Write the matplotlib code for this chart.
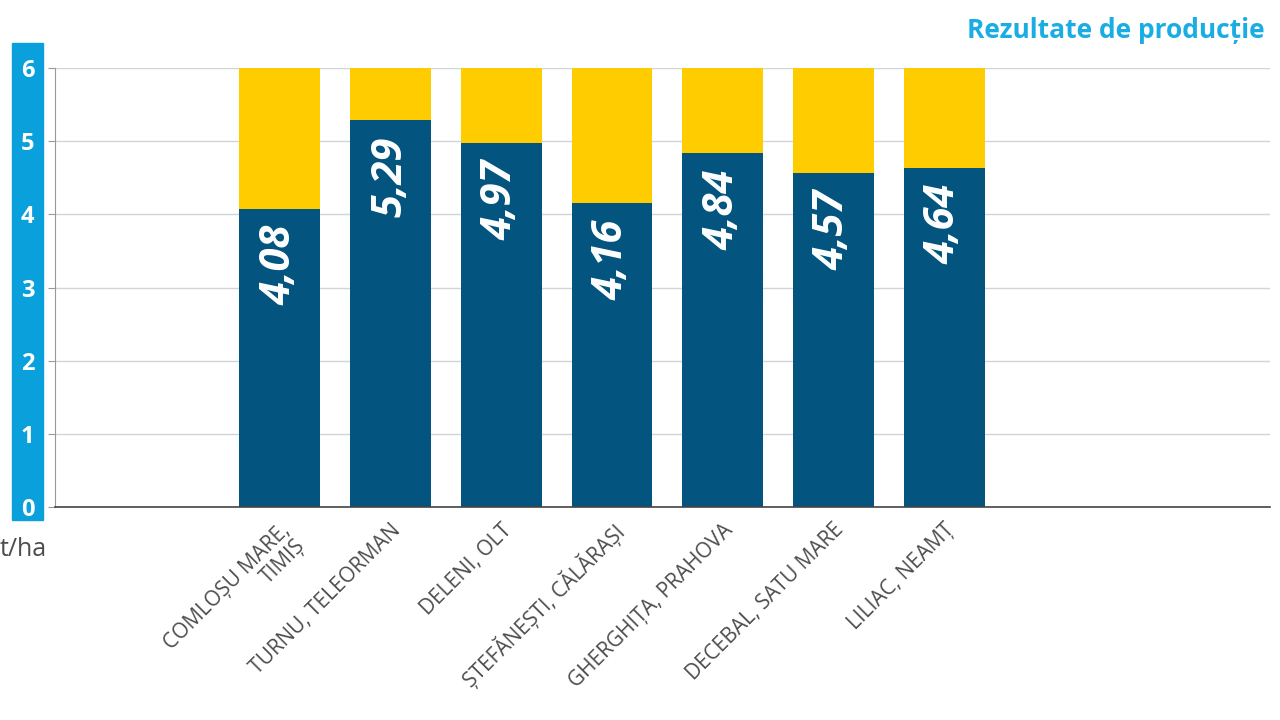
import matplotlib.pyplot as plt
from matplotlib.patches import Rectangle

# Data
locations = ['COMLOȘU MARE,\nTIMIȘ', 'TURNU, TELEORMAN', 'DELENI, OLT',
             'ȘTEFĂNEȘTI, CĂLĂRAȘI', 'GHERGHIȚA, PRAHOVA',
             'DECEBAL, SATU MARE', 'LILIAC, NEAMȚ']
yields = [4.08, 5.29, 4.97, 4.16, 4.84, 4.57, 4.64]
scale_max = [6, 6, 6, 6, 6, 6, 6]
value_labels = ['4,08', '5,29', '4,97', '4,16', '4,84', '4,57', '4,64']
y_ticks = [0, 1, 2, 3, 4, 5, 6]

BLUE = '#03557f'
YELLOW = '#ffcc00'
STRIP = '#0aa0dc'
GREY = '#4d4d4d'

plt.rcParams['font.family'] = ['Open Sans', 'DejaVu Sans']

fig = plt.figure(figsize=(12.8, 7.2), dpi=100)
ax = fig.add_axes([0.043, 0.2958, 0.949, 0.6097])
ax.set_zorder(2)

x = list(range(len(locations)))
rest = [m - v for m, v in zip(scale_max, yields)]
ax.bar(x, yields, width=0.73, color=BLUE, zorder=2)
ax.bar(x, rest, bottom=yields, width=0.73, color=YELLOW, zorder=2)

for xi, v, lab in zip(x, yields, value_labels):
    ax.annotate(lab, (xi, v), xytext=(0, -12), textcoords='offset points',
                rotation=90, ha='center', va='top', color='white',
                fontsize=30, fontweight='bold', fontstyle='italic', zorder=3)

ax.set_xlim(-2.03, 8.94)
ax.set_ylim(0, 6)
ax.set_yticks(y_ticks)
ax.set_yticklabels([str(t) for t in y_ticks], color='white',
                   fontsize=17, fontweight='bold')
ax.tick_params(axis='y', length=5, color='#999999', pad=10)
ax.grid(axis='y', color='#cfd6da', linewidth=1, zorder=0)

ax.set_xticks(x)
ax.set_xticklabels(locations, rotation=45, ha='right', rotation_mode='anchor',
                   color=GREY, fontsize=15, linespacing=1.05)
ax.tick_params(axis='x', length=0, pad=9)

ax.spines['top'].set_visible(False)
ax.spines['right'].set_visible(False)
ax.spines['left'].set_color('#999999')
ax.spines['bottom'].set_color('#444444')
ax.spines['bottom'].set_linewidth(1.2)

# blue strip behind the y tick labels
fig.patches.append(Rectangle((12 / 1280, 1 - 520 / 720), 31 / 1280, 477 / 720,
                             transform=fig.transFigure, color=STRIP, zorder=0))

fig.text(0.0, 1 - 549 / 720, 't/ha', color=GREY, fontsize=18,
         ha='left', va='center')
fig.text(0.988, 0.958, 'Rezultate de producție', color='#1aade3',
         fontsize=19, fontweight='bold', ha='right', va='center')

fig.savefig('out.png', dpi=100)
